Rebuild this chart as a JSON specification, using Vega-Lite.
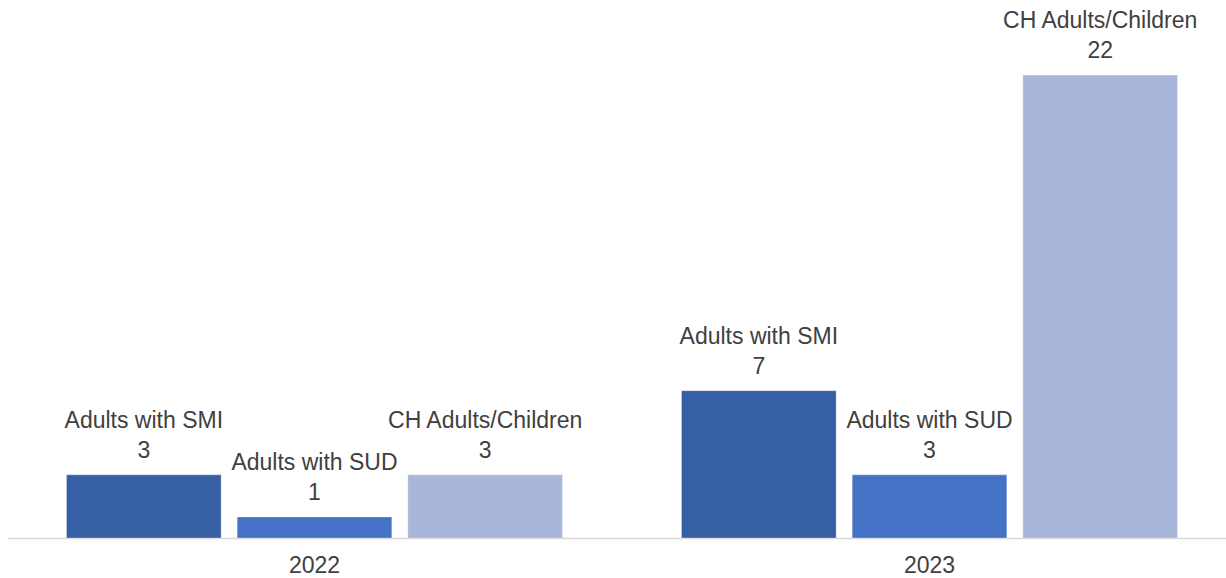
{
  "$schema": "https://vega.github.io/schema/vega-lite/v6.json",
  "autosize": "none",
  "width": 1219,
  "height": 463,
  "padding": {"left": 7, "top": 75, "right": 0, "bottom": 40},
  "background": "white",
  "config": {"view": {"stroke": null}, "font": "Liberation Sans"},
  "data": {"values": [
    {"year": "2022", "group": "Adults with SMI", "value": 3},
    {"year": "2022", "group": "Adults with SUD", "value": 1},
    {"year": "2022", "group": "CH Adults/Children", "value": 3},
    {"year": "2023", "group": "Adults with SMI", "value": 7},
    {"year": "2023", "group": "Adults with SUD", "value": 3},
    {"year": "2023", "group": "CH Adults/Children", "value": 22}
  ]},
  "encoding": {
    "x": {"field": "year", "type": "nominal", "title": null,
      "scale": {"range": [0, 1230], "paddingInner": 0.1935, "paddingOuter": 0.0967},
      "axis": {"domainColor": "#d9d9d9", "domainWidth": 1.5, "ticks": false, "labelAngle": 0,
        "labelFont": "Liberation Sans", "labelFontSize": 23, "labelColor": "#404040", "labelPadding": 16, "grid": false}},
    "xOffset": {"field": "group", "type": "nominal", "scale": {"paddingInner": 0.094, "paddingOuter": 0}},
    "y": {"field": "value", "type": "quantitative", "scale": {"domain": [0, 22], "nice": false, "zero": true}, "axis": null}
  },
  "layer": [
    {"mark": {"type": "bar", "stroke": "#ffffff", "strokeWidth": 0.75, "strokeOpacity": 0.4},
     "encoding": {"color": {"field": "group", "type": "nominal", "legend": null,
       "scale": {"domain": ["Adults with SMI", "Adults with SUD", "CH Adults/Children"], "range": ["#375FA4", "#4472C4", "#A9B6DA"]}}}},
    {"mark": {"type": "text", "baseline": "middle", "dy": -24, "fontSize": 23, "color": "#404040", "font": "Liberation Sans"},
     "encoding": {"text": {"field": "value", "type": "quantitative"}}},
    {"mark": {"type": "text", "baseline": "middle", "dy": -54, "fontSize": 23, "color": "#404040", "font": "Liberation Sans"},
     "encoding": {"text": {"field": "group", "type": "nominal"}}}
  ]
}
